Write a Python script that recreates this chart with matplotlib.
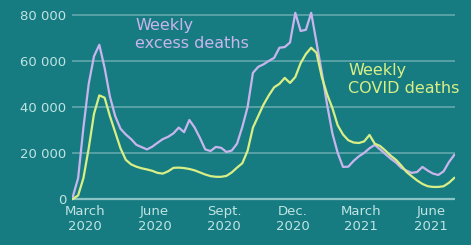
import numpy as np
import pandas as pd
import matplotlib
matplotlib.use("Agg")
import matplotlib.pyplot as plt

# Weekly deaths (weeks starting mid-Feb 2020)
start = "2020-02-14"
excess = [1000, 9000, 31000, 50000, 62000, 67000, 57000, 44500, 36000, 30500,
          28000, 26000, 23500, 22500, 21500, 22700, 24400, 26000, 27000, 28500,
          31000, 29000, 34300, 31000, 26500, 21500, 20800, 22600, 22200, 20400,
          21000, 24000, 31300, 40000, 54800, 57400, 58500, 60000, 61300, 65700,
          66000, 68000, 80900, 73000, 73500, 80900, 68000, 55000, 41000, 28500,
          20000, 13900, 14000, 16500, 18500, 20000, 22000, 23500, 21500, 19500,
          17500, 15800, 13500, 12300, 11300, 11700, 13900, 12300, 11000, 10400,
          12000, 16000, 19100]
covid = [0, 1500, 9000, 22000, 37000, 45000, 44000, 36000, 29000, 22000,
         17000, 15000, 14000, 13300, 12800, 12200, 11300, 11000, 12000, 13500,
         13600, 13400, 13000, 12400, 11500, 10600, 9900, 9600, 9600, 10000,
         11500, 13600, 15500, 21000, 31000, 36000, 41000, 45000, 48500, 50000,
         52600, 50400, 53000, 59000, 63000, 65700, 63500, 53000, 45500, 39500,
         32000, 28000, 25500, 24500, 24300, 25000, 27800, 24000, 23000, 21000,
         18800, 17000, 14500, 11700, 9800, 8000, 6500, 5500, 5200, 5200,
         5500, 7000, 9100]
weeks = pd.date_range(start, periods=len(excess), freq="7D")

tick_dates = pd.to_datetime(["2020-03-01", "2020-06-01", "2020-09-01",
                             "2020-12-01", "2021-03-01", "2021-06-01"])
tick_labels = ["March\n2020", "June\n2020", "Sept.\n2020",
               "Dec.\n2020", "March\n2021", "June\n2021"]
y_ticks = [0, 20000, 40000, 60000, 80000]
y_labels = ["0", "20 000", "40 000", "60 000", "80 000"]

bg = "#177c81"
grid_col = "#56a2a6"
text_col = "#bfe4e3"
purple = "#c9b5ee"
green = "#d9ef86"

fig = plt.figure(figsize=(4.71, 2.45), dpi=100, facecolor=bg)
ax = fig.add_axes([0.153, 0.18, 0.813, 0.78])
ax.set_facecolor(bg)

ax.plot(weeks, excess, color=purple, lw=1.6, zorder=3)
ax.plot(weeks, covid, color=green, lw=1.6, zorder=4)

ax.set_ylim(-870, 82200)
ax.set_xlim(weeks[0] - pd.Timedelta(days=1), weeks[-1] + pd.Timedelta(days=1))

ax.set_yticks(y_ticks)
ax.set_yticklabels(y_labels)
ax.set_xticks(tick_dates)
ax.set_xticklabels(tick_labels)
ax.tick_params(length=0, colors=text_col, labelsize=9.5, pad=4)
ax.tick_params(axis="x", pad=3)
for lbl in ax.get_xticklabels():
    lbl.set_linespacing(1.15)

ax.grid(axis="y", color=grid_col, lw=1.4, zorder=1)
ax.axhline(0, color="#8cc4c6", lw=1.6, zorder=2)
for s in ax.spines.values():
    s.set_visible(False)

# series labels
fig.text(135 / 471, 1 - 18 / 245, "Weekly\nexcess deaths", color=purple,
         fontsize=11.5, va="top", ha="left", linespacing=1.25)
fig.text(348 / 471, 1 - 63 / 245, "Weekly\nCOVID deaths", color=green,
         fontsize=11.5, va="top", ha="left", linespacing=1.25)

fig.savefig("out.png", dpi=100, facecolor=bg)
